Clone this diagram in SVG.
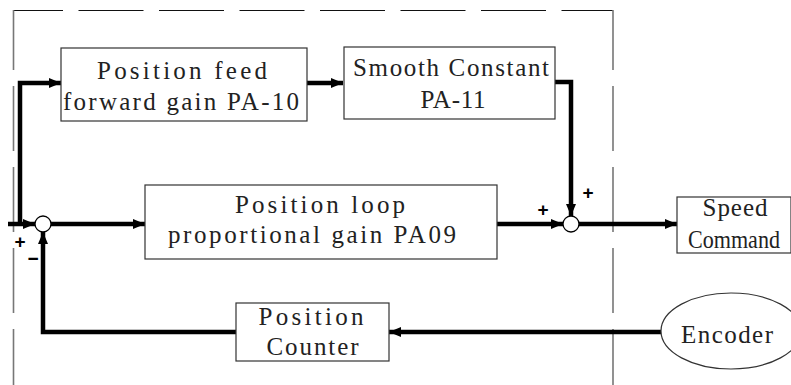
<svg xmlns="http://www.w3.org/2000/svg" width="791" height="385" viewBox="0 0 791 385">
<style>
.box{fill:#fff;stroke:#333;stroke-width:1.2}
.t{font-family:"Liberation Serif","DejaVu Serif",serif;font-size:25px;fill:#222;text-anchor:middle}
.w{fill:none;stroke:#000;stroke-width:4.5}
.sg{font-family:"Liberation Sans",Arial,sans-serif;font-size:19px;font-weight:bold;fill:#000;text-anchor:middle}
.sum{fill:#fff;stroke:#000;stroke-width:1.3}
</style>
<defs>
<marker id="ah" viewBox="0 0 12 10" refX="12" refY="5" markerWidth="12" markerHeight="10" markerUnits="userSpaceOnUse" orient="auto">
<path d="M0,0 L12,5 L0,10 z" fill="#000"/>
</marker>
</defs>
<g id="frame">
<line x1="13" y1="10.5" x2="613" y2="10.5" stroke="#111" stroke-width="1" stroke-dasharray="65 15.5" stroke-dashoffset="15"/>
<line x1="13.5" y1="10" x2="13.5" y2="385" stroke="#777" stroke-width="1.6" stroke-dasharray="65 16" stroke-dashoffset="5"/>
<line x1="613" y1="10" x2="613" y2="385" stroke="#777" stroke-width="1.6" stroke-dasharray="65 16" stroke-dashoffset="5"/>
</g>
<g id="connectors">
<path class="w" d="M8,224 H35" marker-end="url(#ah)"/>
<path class="w" d="M20,226 V83 H61" marker-end="url(#ah)"/>
<path class="w" d="M307,83 H343" marker-end="url(#ah)"/>
<path class="w" d="M555,82 H571 V216" marker-end="url(#ah)"/>
<path class="w" d="M51,224 H145" marker-end="url(#ah)"/>
<path class="w" d="M497,224 H563" marker-end="url(#ah)"/>
<path class="w" d="M579,224 H677" marker-end="url(#ah)"/>
<path class="w" d="M661,332 H389" marker-end="url(#ah)"/>
<path class="w" d="M236,332 H43 V232" marker-end="url(#ah)"/>
</g>
<g id="feedforward">
<rect class="box" x="61" y="48" width="246" height="73"/>
<text class="t" x="182" y="79" textLength="170" lengthAdjust="spacing">Position feed</text>
<text class="t" x="181" y="110" textLength="236" lengthAdjust="spacing">forward gain PA-10</text>
</g>
<g id="smooth">
<rect class="box" x="344" y="47" width="211" height="72"/>
<text class="t" x="451" y="76" textLength="196" lengthAdjust="spacing">Smooth Constant</text>
<text class="t" x="453" y="108" textLength="65" lengthAdjust="spacing">PA-11</text>
</g>
<g id="loopgain">
<rect class="box" x="145" y="185" width="352" height="74"/>
<text class="t" x="320" y="213" textLength="170" lengthAdjust="spacing">Position loop</text>
<text class="t" x="312" y="243" textLength="288" lengthAdjust="spacing">proportional gain PA09</text>
</g>
<g id="counter">
<rect class="box" x="236" y="303" width="153" height="58"/>
<text class="t" x="311" y="325" textLength="105" lengthAdjust="spacing">Position</text>
<text class="t" x="312.5" y="355" textLength="92" lengthAdjust="spacing">Counter</text>
</g>
<g id="speed">
<rect class="box" x="677" y="197" width="114" height="56"/>
<text class="t" x="735" y="216" textLength="65" lengthAdjust="spacing">Speed</text>
<text class="t" x="734" y="248" textLength="92" lengthAdjust="spacingAndGlyphs">Command</text>
</g>
<g id="encoder">
<ellipse class="box" cx="731" cy="331" rx="70" ry="38"/>
<text class="t" x="727" y="343" textLength="92" lengthAdjust="spacing">Encoder</text>
</g>
<g id="sum1">
<circle class="sum" cx="43" cy="224" r="8"/>
<text class="sg" x="20" y="248">+</text>
<text class="sg" x="33" y="265">−</text>
</g>
<g id="sum2">
<circle class="sum" cx="571" cy="224" r="8"/>
<text class="sg" x="543" y="216">+</text>
<text class="sg" x="588" y="199">+</text>
</g>
</svg>
